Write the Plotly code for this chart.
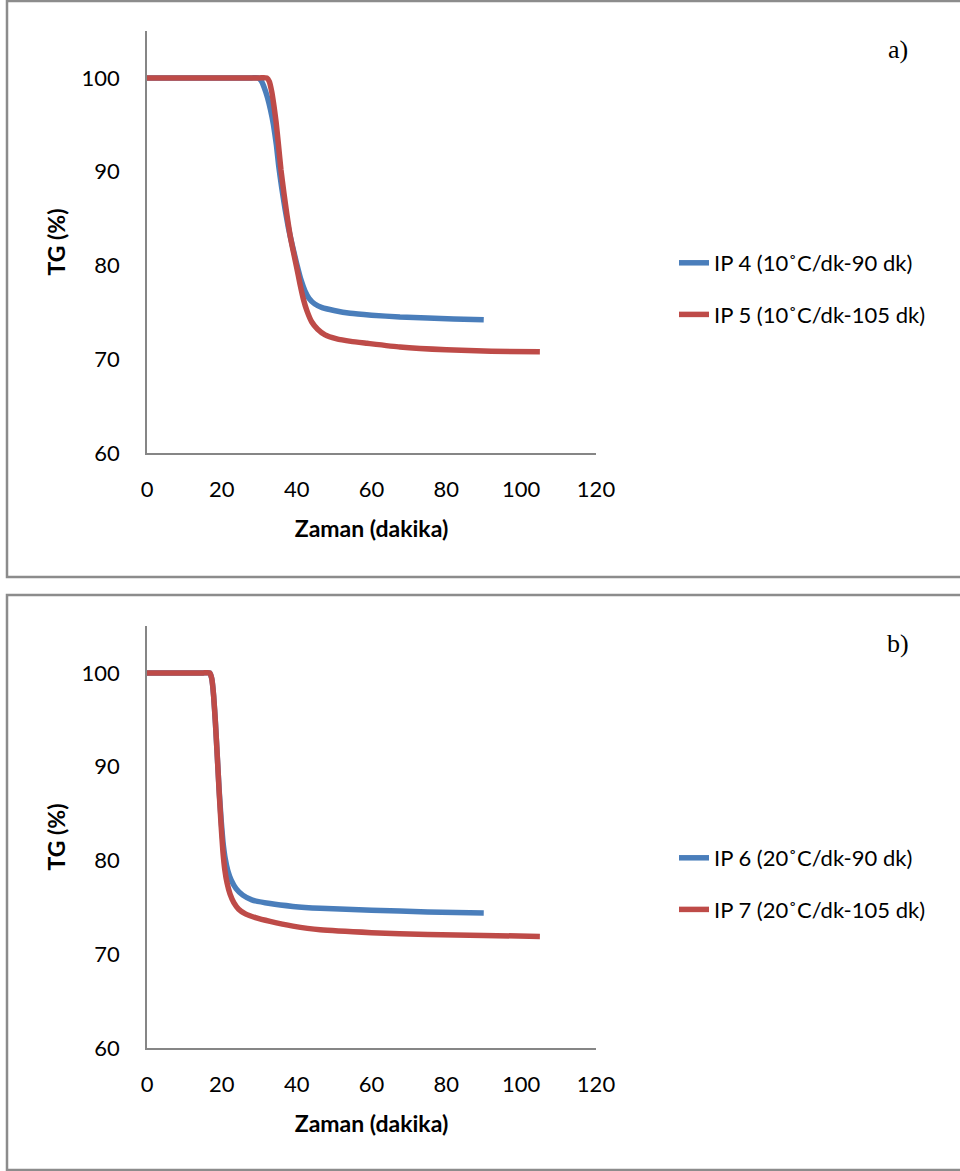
import plotly.graph_objects as go

# Panel a) heating rate 10 °C/dk
ip4_t = [0, 10, 20, 28, 29.7, 30.5, 31.3, 32.2, 33.0, 33.8, 34.6, 35.2, 36.0, 36.9, 37.8, 38.8, 40.0, 41.2, 42.2, 43.3, 44.8, 46.8, 50.0, 54.3, 60.0, 67.6, 75.0, 82.0, 90.0]
ip4_tg = [100, 100, 100, 100, 100, 99.7, 99.0, 97.9, 96.6, 95.0, 92.8, 90.6, 88.3, 86.0, 84.0, 82.2, 80.2, 78.4, 77.3, 76.5, 75.9, 75.5, 75.2, 74.9, 74.7, 74.5, 74.4, 74.3, 74.2]

ip5_t = [0, 10, 20, 30, 32.0, 32.7, 33.3, 33.9, 34.5, 35.1, 35.8, 36.6, 37.4, 38.2, 39.1, 40.0, 40.9, 41.8, 42.8, 44.0, 45.6, 47.6, 50.5, 54.5, 58.8, 67.6, 80.0, 92.0, 105.0]
ip5_tg = [100, 100, 100, 100, 100, 99.6, 98.6, 97.1, 95.3, 93.0, 90.2, 87.7, 85.4, 83.3, 81.5, 79.8, 78.0, 76.4, 75.1, 74.0, 73.2, 72.6, 72.2, 71.9, 71.7, 71.3, 71.0, 70.85, 70.8]

# Panel b) heating rate 20 °C/dk
ip6_t = [0, 5, 10, 15, 16.8, 17.3, 17.8, 18.3, 18.8, 19.3, 19.8, 20.3, 20.9, 21.6, 22.5, 23.8, 25.6, 28.0, 32.9, 39.0, 46.3, 60.0, 75.0, 90.0]
ip6_tg = [100, 100, 100, 100, 100, 99.4, 97.6, 94.6, 91.0, 87.4, 84.4, 82.0, 80.2, 78.9, 77.9, 77.0, 76.3, 75.8, 75.4, 75.1, 74.9, 74.7, 74.5, 74.4]

ip7_t = [0, 5, 10, 15, 16.8, 17.3, 17.8, 18.3, 18.8, 19.3, 19.8, 20.3, 20.8, 21.4, 22.2, 23.2, 24.5, 26.3, 29.0, 32.9, 39.0, 46.3, 60.0, 75.0, 90.0, 105.0]
ip7_tg = [100, 100, 100, 100, 100, 99.4, 97.6, 94.6, 91.0, 87.2, 83.8, 80.9, 79.0, 77.6, 76.4, 75.5, 74.8, 74.3, 73.9, 73.5, 73.0, 72.6, 72.3, 72.1, 72.0, 71.9]

names_a = ["IP 4 (10˚C/dk-90 dk)", "IP 5 (10˚C/dk-105 dk)"]
names_b = ["IP 6 (20˚C/dk-90 dk)", "IP 7 (20˚C/dk-105 dk)"]
panel_labels = ["a)", "b)"]

x_ticks = [0, 20, 40, 60, 80, 100, 120]
y_ticks = [60, 70, 80, 90, 100]

BLUE = "#4A7EBB"
RED = "#BE4B48"
AXIS = "#868686"
FONT = "Lato, 'Open Sans', sans-serif"

W, H = 960, 1171

fig = go.Figure()

series = [
    (ip4_t, ip4_tg, names_a[0], BLUE, "x", "y", "legend"),
    (ip5_t, ip5_tg, names_a[1], RED, "x", "y", "legend"),
    (ip6_t, ip6_tg, names_b[0], BLUE, "x2", "y2", "legend2"),
    (ip7_t, ip7_tg, names_b[1], RED, "x2", "y2", "legend2"),
]
for i, (t, tg, name, color, xa, ya, lg) in enumerate(series):
    fig.add_trace(go.Scatter(
        x=t, y=tg, name=name, mode="lines",
        line=dict(color=color, width=5.5, shape="spline", smoothing=0.4),
        xaxis=xa, yaxis=ya, legend=lg, legendgroup=str(i),
    ))

def px_x(v):
    return v / W

def px_y(v):
    return 1 - v / H

x_dom = [px_x(147), px_x(596)]
y_doms = [[px_y(453), px_y(31)], [px_y(1048), px_y(626)]]

TICK_FONT = dict(size=22, color="#000", family=FONT)
TITLE_FONT = dict(size=23, color="#000", family=FONT)

common_x = dict(
    range=[0, 120], tickvals=x_ticks, showgrid=False, zeroline=False,
    showline=True, linecolor=AXIS, linewidth=1.5, ticks="",
    tickfont=TICK_FONT, ticklabelstandoff=16, automargin=False,
    title=dict(text="<b>Zaman (dakika)</b>", font=TITLE_FONT, standoff=20),
)
common_y = dict(
    range=[60, 105], tickvals=y_ticks, showgrid=False, zeroline=False,
    showline=True, linecolor=AXIS, linewidth=1.5, ticks="",
    tickfont=TICK_FONT, ticklabelstandoff=21, automargin=False,
    title=dict(text="<b>TG (%)</b>", font=TITLE_FONT, standoff=10),
)

fig.update_layout(
    xaxis=dict(domain=x_dom, anchor="y", **common_x),
    yaxis=dict(domain=y_doms[0], anchor="x", **common_y),
    xaxis2=dict(domain=x_dom, anchor="y2", **common_x),
    yaxis2=dict(domain=y_doms[1], anchor="x2", **common_y),
)

legend_style = dict(
    font=dict(size=22, color="#000", family=FONT),
    bgcolor="rgba(0,0,0,0)", xanchor="left", yanchor="middle",
    tracegroupgap=20, traceorder="grouped",
)
fig.update_layout(
    legend=dict(x=px_x(674), y=px_y(289), **legend_style),
    legend2=dict(x=px_x(674), y=px_y(884), **legend_style),
)

# Panel frames
frames = [(1, 577), (595, 1170)]
for top, bottom in frames:
    fig.add_shape(type="rect", xref="paper", yref="paper",
                  x0=px_x(7), x1=1.05, y0=px_y(bottom), y1=px_y(top),
                  line=dict(color="#8C8C8C", width=2.5), fillcolor="rgba(0,0,0,0)")

for label, cy in zip(panel_labels, [50, 644]):
    fig.add_annotation(text=label, xref="paper", yref="paper",
                       x=px_x(898), y=px_y(cy), xanchor="center", yanchor="middle",
                       showarrow=False,
                       font=dict(size=26, color="#000", family="'Liberation Serif', serif"))

fig.update_layout(
    width=W, height=H, margin=dict(l=0, r=0, t=0, b=0),
    paper_bgcolor="white", plot_bgcolor="white", showlegend=True,
)

fig.write_html("out.html")
